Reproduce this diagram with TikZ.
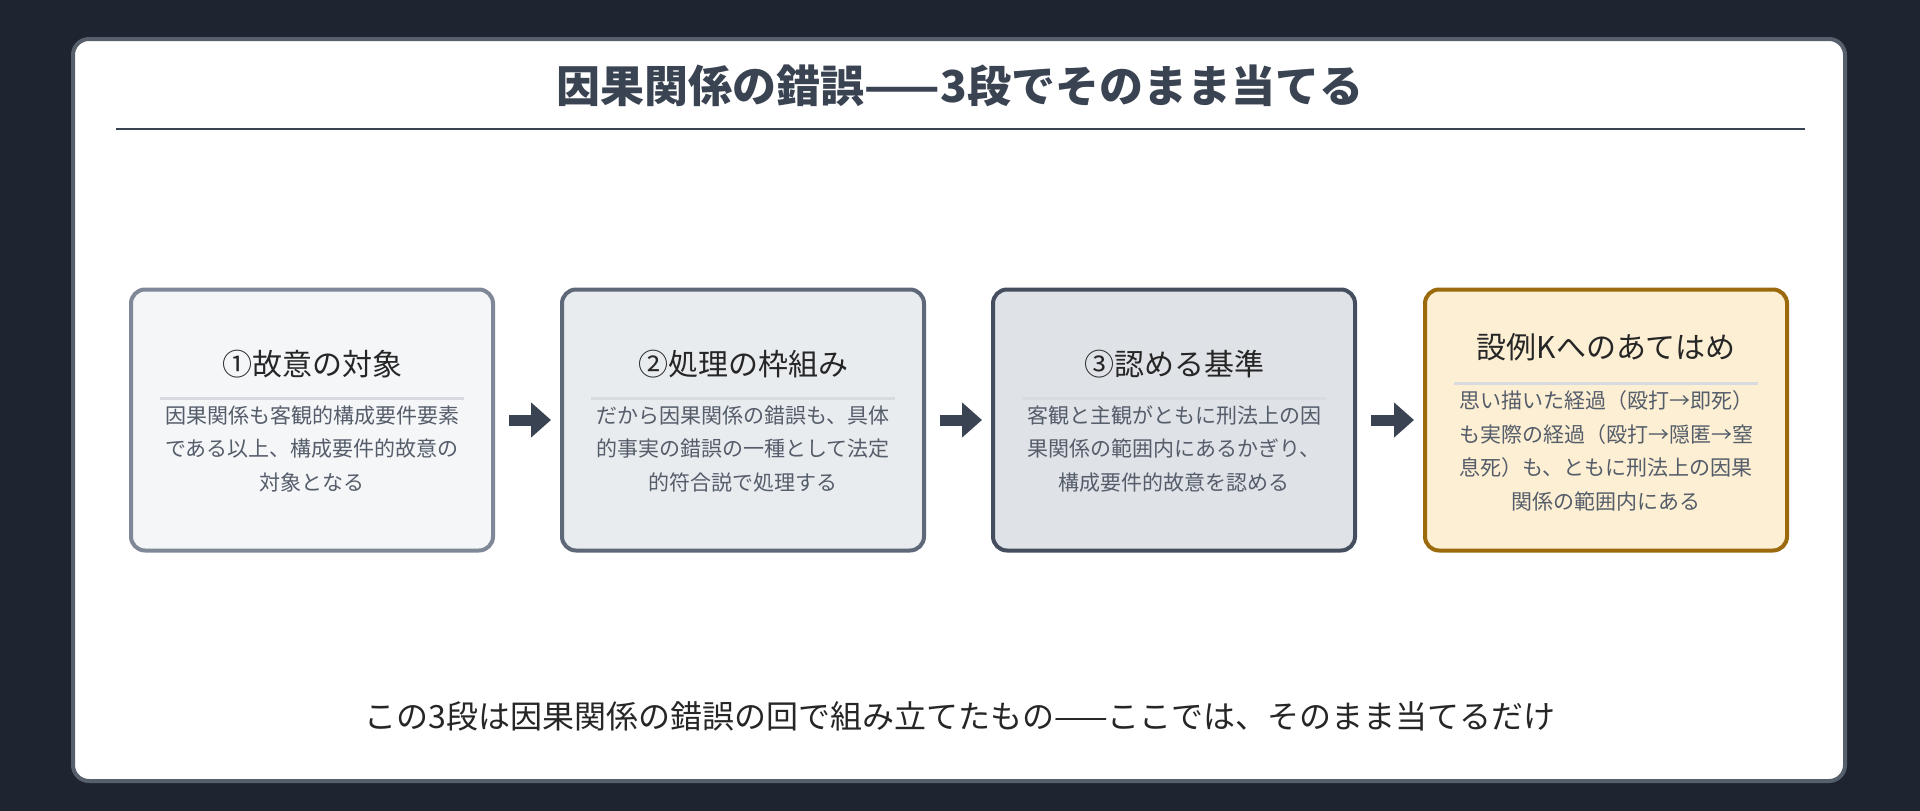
\documentclass[tikz,border=0pt]{standalone}
\usepackage{fontspec}
\setmainfont{Noto Sans CJK JP}
\usetikzlibrary{arrows.meta}

\definecolor{bgdark}{HTML}{1E2530}
\definecolor{ink}{HTML}{3A4352}
\definecolor{bodyink}{HTML}{555D6A}
\definecolor{sepgray}{HTML}{D7DADE}
\definecolor{lineA}{HTML}{7F8898}\definecolor{fillA}{HTML}{F4F6F8}
\definecolor{lineB}{HTML}{5F6878}\definecolor{fillB}{HTML}{E9ECEF}
\definecolor{lineC}{HTML}{454E5E}\definecolor{fillC}{HTML}{DFE2E7}
\definecolor{lineK}{HTML}{9A6A0C}\definecolor{fillK}{HTML}{FCEFD3}

\tikzset{
  step/.style={draw=#1, line width=4pt, rounded corners=14pt,
    minimum width=362pt, minimum height=261pt, inner sep=0pt},
  head/.style={font=\fontsize{30}{36}\selectfont, text=black!85, anchor=center},
  body/.style={font=\fontsize{21}{33.6}\selectfont, text=bodyink, align=center, anchor=north},
  sep/.style={draw=sepgray, line width=3pt},
  flow/.style={draw=ink, line width=11pt, -{Triangle[length=20pt,width=34pt]},
    shorten <=14pt, shorten >=9pt}
}

\begin{document}
\begin{tikzpicture}[x=1pt,y=-1pt]
    % Fondo y tarjeta.
    \fill[bgdark] (0,0) rectangle (1920,811);
    \useasboundingbox (0,0) rectangle (1920,811);
    \draw[fill=white, draw=ink!85!white, line width=4pt, rounded corners=16pt] (73,39) rectangle (1845,781);

    % Titulo y regla.
    \node[font=\fontsize{44}{50}\selectfont\bfseries, text=ink] (title) at (960,86) {因果関係の錯誤——3段でそのまま当てる};
    \coordinate (ruleL) at (116,129);
    \coordinate (ruleR) at (1805,129);
    \draw[ink, line width=2.5pt] (ruleL) -- (ruleR);

    % Las cuatro cajas.
    \node[step=lineA, fill=fillA] (objeto) at (312,420) {};
    \node[step=lineB, fill=fillB] (marco) at (743,420) {};
    \node[step=lineC, fill=fillC] (criterio) at (1174,420) {};
    \node[step=lineK, fill=fillK] (caso) at (1606,420) {};

    % Encabezados.
    \node[head] (hA) at (312,364) {①故意の対象};
    \node[head] (hB) at (743,364) {②処理の枠組み};
    \node[head] (hC) at (1174,364) {③認める基準};
    \node[head] (hK) at (1606,347) {設例Kへのあてはめ};

    % Separadores.
    \foreach \b/\y in {objeto/398,marco/398,criterio/398,caso/383}
        \draw[sep] ([xshift=-152pt]\b.center |- 0,\y) -- ([xshift=152pt]\b.center |- 0,\y);

    % Textos.
    \node[body] (tA) at (312,402) {因果関係も客観的構成要件要素\\である以上、構成要件的故意の\\対象となる};
    \node[body] (tB) at (743,402) {だから因果関係の錯誤も、具体\\的事実の錯誤の一種として法定\\的符合説で処理する};
    \node[body] (tC) at (1174,402) {客観と主観がともに刑法上の因\\果関係の範囲内にあるかぎり、\\構成要件的故意を認める};
    \node[body] (tK) at (1606,387) {思い描いた経過（殴打→即死）\\も実際の経過（殴打→隠匿→窒\\息死）も、ともに刑法上の因果\\関係の範囲内にある};

    % Flechas.
    \draw[flow] (objeto) -- (marco);
    \draw[flow] (marco) -- (criterio);
    \draw[flow] (criterio) -- (caso);

    % Nota final.
    \node[font=\fontsize{32}{38}\selectfont, text=black!85] (nota) at (960,716) {この3段は因果関係の錯誤の回で組み立てたもの——ここでは、そのまま当てるだけ};
\end{tikzpicture}
\end{document}
